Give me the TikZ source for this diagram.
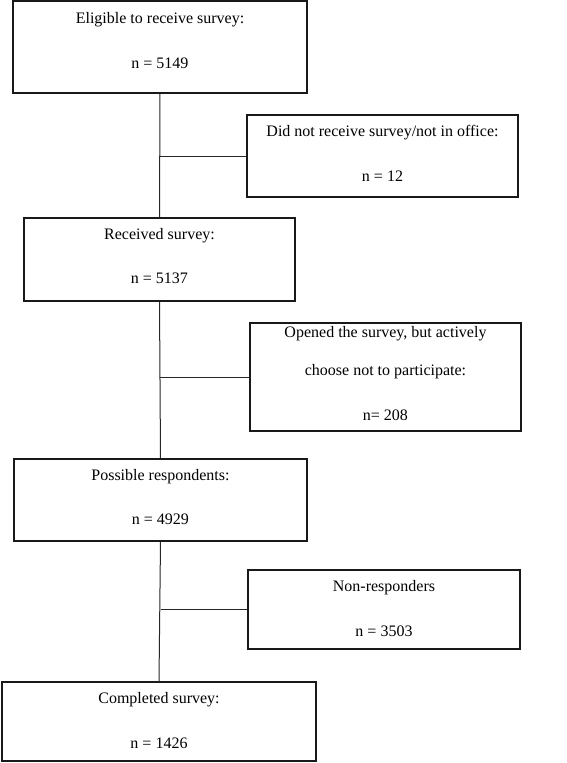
\documentclass[tikz,border=0pt]{standalone}
\usepackage{fontspec}
\setmainfont{Liberation Serif}
\usetikzlibrary{positioning}

\tikzset{
	flowbox/.style={draw=black!90, line width=1.2pt, inner sep=0pt},
	boxtext/.style={align=center, inner sep=0pt, text=black,
		font=\fontsize{16}{19.2}\selectfont},
	link/.style={draw=black!85, line width=1pt}
}

\begin{document}
\begin{tikzpicture}[x=1pt, y=-1pt]
\useasboundingbox (0,0) rectangle (567,763);

% Main column of the flow chart
\node[flowbox, minimum width=294pt, minimum height=92pt] (elig) at (160,47) {};
\node[flowbox, minimum width=271pt, minimum height=83pt] (recv) at (159.5,259.5) {};
\node[flowbox, minimum width=293pt, minimum height=82pt] (poss) at (160.5,500) {};
\node[flowbox, minimum width=314pt, minimum height=79pt] (compl) at (159,721.5) {};

% Boxes on the side for those who drop out
\node[flowbox, minimum width=271pt, minimum height=82pt] (notrec) at (382.5,156) {};
\node[flowbox, minimum width=271pt, minimum height=108pt] (opened) at (385.5,377) {};
\node[flowbox, minimum width=272pt, minimum height=79pt] (nonresp) at (384,609.5) {};

% Texts in the boxes
\node[boxtext, below=11pt of elig.north] (eligtext)
	{\rule{0pt}{12pt}Eligible to receive survey:\\[26pt] n = 5149};
\node[boxtext, below=10pt of recv.north] (recvtext)
	{\rule{0pt}{12pt}Received survey:\\[25pt] n = 5137};
\node[boxtext, below=10pt of poss.north] (posstext)
	{\rule{0pt}{12pt}Possible respondents:\\[25pt] n = 4929};
\node[boxtext, below=10pt of compl.north] (compltext)
	{\rule{0pt}{12pt}Completed survey:\\[26pt] n = 1426};
\node[boxtext, below=10pt of notrec.north] (notrectext)
	{\rule{0pt}{12pt}Did not receive survey/not in office:\\[26pt] n = 12};
\node[boxtext, below=3pt of opened.north] (openedtext)
	{\rule{0pt}{12pt}Opened the survey, but actively\\[18.8pt]
	 choose not to participate:\\[26pt] n= 208};
\node[boxtext, below=10pt of nonresp.north] (nonresptext)
	{\rule{0pt}{12pt}Non-responders\\[26pt] n = 3503};

% Connecting lines
\draw[link] (elig.south) -- (recv.north);
\draw[link] (recv.south) -- (poss.north);
\draw[link] (poss.south) -- (compl.north);
\draw[link] (elig.south |- notrec.west) -- (notrec.west);
\draw[link] (recv.south |- opened.west) -- (opened.west);
\draw[link] (poss.south |- nonresp.west) -- (nonresp.west);
\end{tikzpicture}
\end{document}
